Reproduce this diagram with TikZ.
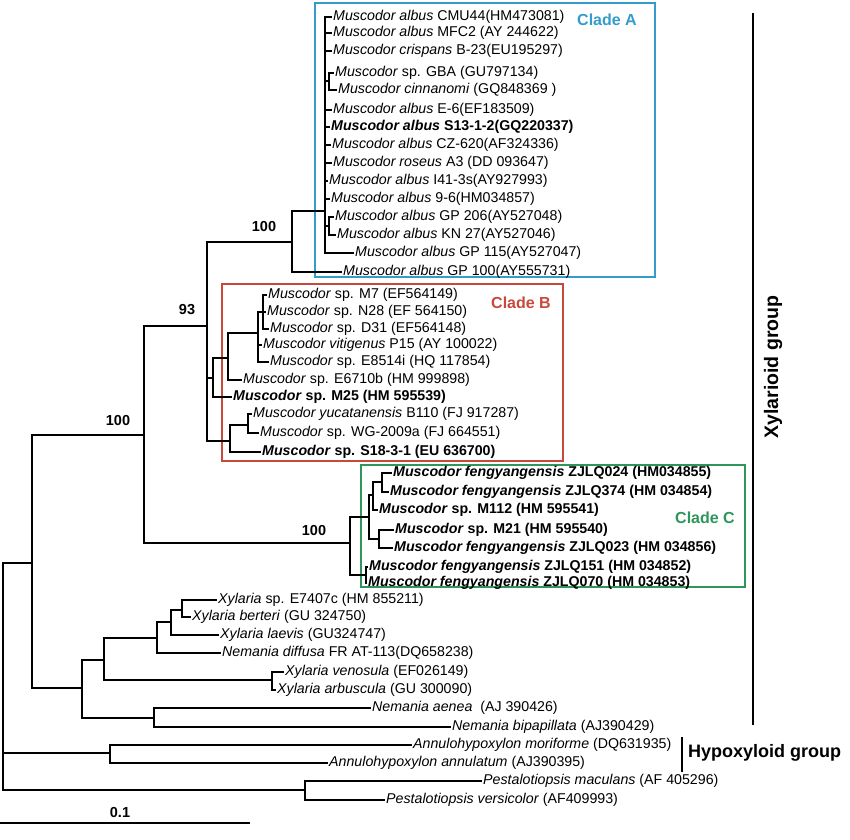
\documentclass[tikz,border=0pt]{standalone}
\usepackage{fontspec}
\setmainfont{Liberation Sans}
\definecolor{cladeA}{RGB}{52,156,204}
\definecolor{cladeB}{RGB}{200,72,60}
\definecolor{cladeC}{RGB}{46,150,90}
\begin{document}
\begin{tikzpicture}[x=1pt,y=-1pt,
  br/.style={line width=1.7pt, line cap=rect, line join=miter},
  tip/.style={anchor=west, inner xsep=1.5pt, inner ysep=0pt, xshift=-1.5pt, font=\fontsize{14.2}{16}\selectfont},
  btip/.style={tip, font=\fontsize{14.2}{16}\selectfont\bfseries},
  boot/.style={font=\fontsize{14.5}{16}\selectfont\bfseries, inner sep=0pt},
  cladebox/.style={line width=1.3pt},
  cladelbl/.style={font=\fontsize{16}{18}\selectfont\bfseries, inner sep=0pt},
  grouplbl/.style={font=\fontsize{18}{20}\selectfont\bfseries, inner sep=0pt},
  groupbar/.style={line width=2.4pt},
]
\useasboundingbox (0,0) rectangle (850,839);

% ---------- clade boxes ----------
\draw[cladebox, cladeA] (315,3) rectangle (655,277);
\draw[cladebox, cladeB] (222,284) rectangle (563,461);
\draw[cladebox, cladeC] (361,465) rectangle (745,587);
\node[cladelbl, text=cladeA] (la) at (607,20) {Clade A};
\node[cladelbl, text=cladeB] (lb) at (521,303) {Clade B};
\node[cladelbl, text=cladeC] (lc) at (705,518) {Clade C};

% ---------- tips: clade A ----------
\node[tip] (a1) at (333,17) {\textit{Muscodor albus} CMU44(HM473081)};
\node[tip] (a2) at (333,33) {\textit{Muscodor albus} MFC2 (AY 244622)};
\node[tip] (a3) at (333,51) {\textit{Muscodor crispans} B-23(EU195297)};
\node[tip] (a4) at (335,73) {\textit{Muscodor} sp. GBA (GU797134)};
\node[tip] (a5) at (338,90) {\textit{Muscodor cinnanomi} (GQ848369 )};
\node[tip] (a6) at (333,110) {\textit{Muscodor albus} E-6(EF183509)};
\node[btip] (a7) at (331,127) {\textit{Muscodor albus} S13-1-2(GQ220337)};
\node[tip] (a8) at (332,145) {\textit{Muscodor albus} CZ-620(AF324336)};
\node[tip] (a9) at (333,163) {\textit{Muscodor roseus} A3 (DD 093647)};
\node[tip] (a10) at (329,181) {\textit{Muscodor albus} I41-3s(AY927993)};
\node[tip] (a11) at (331,199) {\textit{Muscodor albus} 9-6(HM034857)};
\node[tip] (a12) at (335,217) {\textit{Muscodor albus} GP 206(AY527048)};
\node[tip] (a13) at (337,235) {\textit{Muscodor albus} KN 27(AY527046)};
\node[tip] (a14) at (355,253) {\textit{Muscodor albus} GP 115(AY527047)};
\node[tip] (a15) at (343,272) {\textit{Muscodor albus} GP 100(AY555731)};

% ---------- tips: clade B ----------
\node[tip] (b1) at (268,295) {\textit{Muscodor} sp. M7 (EF564149)};
\node[tip] (b2) at (267,312) {\textit{Muscodor} sp. N28 (EF 564150)};
\node[tip] (b3) at (270,329) {\textit{Muscodor} sp. D31 (EF564148)};
\node[tip] (b4) at (263,345) {\textit{Muscodor vitigenus} P15 (AY 100022)};
\node[tip] (b5) at (270,362) {\textit{Muscodor} sp. E8514i (HQ 117854)};
\node[tip] (b6) at (243,380) {\textit{Muscodor} sp. E6710b (HM 999898)};
\node[btip] (b7) at (233,397) {\textit{Muscodor} sp. M25 (HM 595539)};
\node[tip] (b8) at (253,414) {\textit{Muscodor yucatanensis} B110 (FJ 917287)};
\node[tip] (b9) at (260,433) {\textit{Muscodor} sp. WG-2009a (FJ 664551)};
\node[btip] (b10) at (262,452) {\textit{Muscodor} sp. S18-3-1 (EU 636700)};

% ---------- tips: clade C ----------
\node[btip] (c1) at (393,473) {\textit{Muscodor fengyangensis} ZJLQ024 (HM034855)};
\node[btip] (c2) at (390,492) {\textit{Muscodor fengyangensis} ZJLQ374 (HM 034854)};
\node[btip] (c3) at (379,510) {\textit{Muscodor} sp. M112 (HM 595541)};
\node[btip] (c4) at (395,530) {\textit{Muscodor} sp. M21 (HM 595540)};
\node[btip] (c5) at (394,548) {\textit{Muscodor fengyangensis} ZJLQ023 (HM 034856)};
\node[btip] (c6) at (369,567) {\textit{Muscodor fengyangensis} ZJLQ151 (HM 034852)};
\node[btip] (c7) at (368,583) {\textit{Muscodor fengyangensis} ZJLQ070 (HM 034853)};

% ---------- tips: others ----------
\node[tip] (x1) at (218,600) {\textit{Xylaria} sp. E7407c (HM 855211)};
\node[tip] (x2) at (192,617) {\textit{Xylaria berteri} (GU 324750)};
\node[tip] (x3) at (220,635) {\textit{Xylaria laevis} (GU324747)};
\node[tip] (x4) at (222,653) {\textit{Nemania diffusa} FR AT-113(DQ658238)};
\node[tip] (x5) at (285,672) {\textit{Xylaria venosula} (EF026149)};
\node[tip] (x6) at (277,690) {\textit{Xylaria arbuscula} (GU 300090)};
\node[tip] (x7) at (372,708) {\textit{Nemania aenea}\ \ (AJ 390426)};
\node[tip] (x8) at (452,727) {\textit{Nemania bipapillata} (AJ390429)};
\node[tip] (h1) at (413,745) {\textit{Annulohypoxylon moriforme} (DQ631935)};
\node[tip] (h2) at (329,763) {\textit{Annulohypoxylon annulatum} (AJ390395)};
\node[tip] (p1) at (483,781) {\textit{Pestalotiopsis maculans} (AF 405296)};
\node[tip] (p2) at (386,800) {\textit{Pestalotiopsis versicolor} (AF409993)};

% ---------- internal nodes ----------
\coordinate (R) at (3,676);
\coordinate (X) at (32,563);
\coordinate (M) at (144,435);
\coordinate (N93) at (207,326);
\coordinate (NA) at (292,242);
\coordinate (NAc) at (325,211);
\coordinate (NAg) at (329,81);
\coordinate (NAk) at (329,226);
\coordinate (NB1) at (213,378);
\coordinate (NB1a) at (228,358);
\coordinate (NB1b) at (258,333);
\coordinate (NB1c) at (263,312);
\coordinate (NB2) at (230,441);
\coordinate (NB2a) at (248,425);
\coordinate (CC) at (350,543);
\coordinate (CC1) at (369,517);
\coordinate (CC1a) at (373,495);
\coordinate (CC1aa) at (382,482);
\coordinate (CC1b) at (379,539);
\coordinate (CC2) at (366,575);
\coordinate (XY) at (82,688);
\coordinate (XY1) at (104,660);
\coordinate (XY1a) at (157,638);
\coordinate (XY1aa) at (171,622);
\coordinate (XY1aaa) at (182,610);
\coordinate (XY1b) at (272,680);
\coordinate (XY2) at (154,718);
\coordinate (H) at (110,753);
\coordinate (P) at (305,790);

% ---------- branches ----------
\foreach \c in {X,H,P} \draw[br] (R) |- (\c);
\foreach \c in {M,XY} \draw[br] (X) |- (\c);
\foreach \c in {N93,CC} \draw[br] (M) |- (\c);
\foreach \c in {NA,NB1,NB2} \draw[br] (N93) |- (\c);
\draw[br] (NA) |- (NAc);
\draw[br] (NA) |- (a15.west);
\foreach \c in {NAg,NAk} \draw[br] (NAc) |- (\c);
\foreach \c in {a1,a2,a3,a6,a7,a8,a9,a10,a11,a14} \draw[br] (NAc) |- (\c.west);
\foreach \c in {a4,a5} \draw[br] (NAg) |- (\c.west);
\foreach \c in {a12,a13} \draw[br] (NAk) |- (\c.west);

\draw[br] (NB1) |- (NB1a);
\draw[br] (NB1) |- (b7.west);
\draw[br] (NB1a) |- (NB1b);
\draw[br] (NB1a) |- (b6.west);
\draw[br] (NB1b) |- (NB1c);
\foreach \c in {b4,b5} \draw[br] (NB1b) |- (\c.west);
\foreach \c in {b1,b2,b3} \draw[br] (NB1c) |- (\c.west);
\draw[br] (NB2) |- (NB2a);
\draw[br] (NB2) |- (b10.west);
\foreach \c in {b8,b9} \draw[br] (NB2a) |- (\c.west);

\foreach \c in {CC1,CC2} \draw[br] (CC) |- (\c);
\foreach \c in {CC1a,CC1b} \draw[br] (CC1) |- (\c);
\draw[br] (CC1a) |- (CC1aa);
\draw[br] (CC1a) |- (c3.west);
\foreach \c in {c1,c2} \draw[br] (CC1aa) |- (\c.west);
\foreach \c in {c4,c5} \draw[br] (CC1b) |- (\c.west);
\foreach \c in {c6,c7} \draw[br] (CC2) |- (\c.west);

\foreach \c in {XY1,XY2} \draw[br] (XY) |- (\c);
\foreach \c in {XY1a,XY1b} \draw[br] (XY1) |- (\c);
\draw[br] (XY1a) |- (XY1aa);
\draw[br] (XY1a) |- (x4.west);
\draw[br] (XY1aa) |- (XY1aaa);
\draw[br] (XY1aa) |- (x3.west);
\foreach \c in {x1,x2} \draw[br] (XY1aaa) |- (\c.west);
\foreach \c in {x5,x6} \draw[br] (XY1b) |- (\c.west);
\foreach \c in {x7,x8} \draw[br] (XY2) |- (\c.west);
\foreach \c in {h1,h2} \draw[br] (H) |- (\c.west);
\foreach \c in {p1,p2} \draw[br] (P) |- (\c.west);

% ---------- bootstrap values ----------
\node[boot] (bs1) at (264,227) {100};
\node[boot] (bs2) at (187,310) {93};
\node[boot] (bs3) at (118,420) {100};
\node[boot] (bs4) at (314,530) {100};

% ---------- group bars ----------
\coordinate (xg0) at (753,13);
\coordinate (xg1) at (753,725);
\draw[groupbar] (xg0) -- (xg1);
\node[grouplbl, rotate=90, font=\fontsize{19.5}{21}\selectfont\bfseries] (xgl) at (773,367) {Xylarioid group};
\coordinate (hg0) at (682,737);
\coordinate (hg1) at (682,772);
\draw[groupbar] (hg0) -- (hg1);
\node[grouplbl, anchor=west] (hgl) at (688,753) {Hypoxyloid group};

% ---------- scale bar ----------
\coordinate (sb0) at (0,823);
\coordinate (sb1) at (250,823);
\draw[br, line cap=butt] (sb0) -- (sb1);
\node[boot] (sbl) at (120,812) {0.1};
\end{tikzpicture}
\end{document}
